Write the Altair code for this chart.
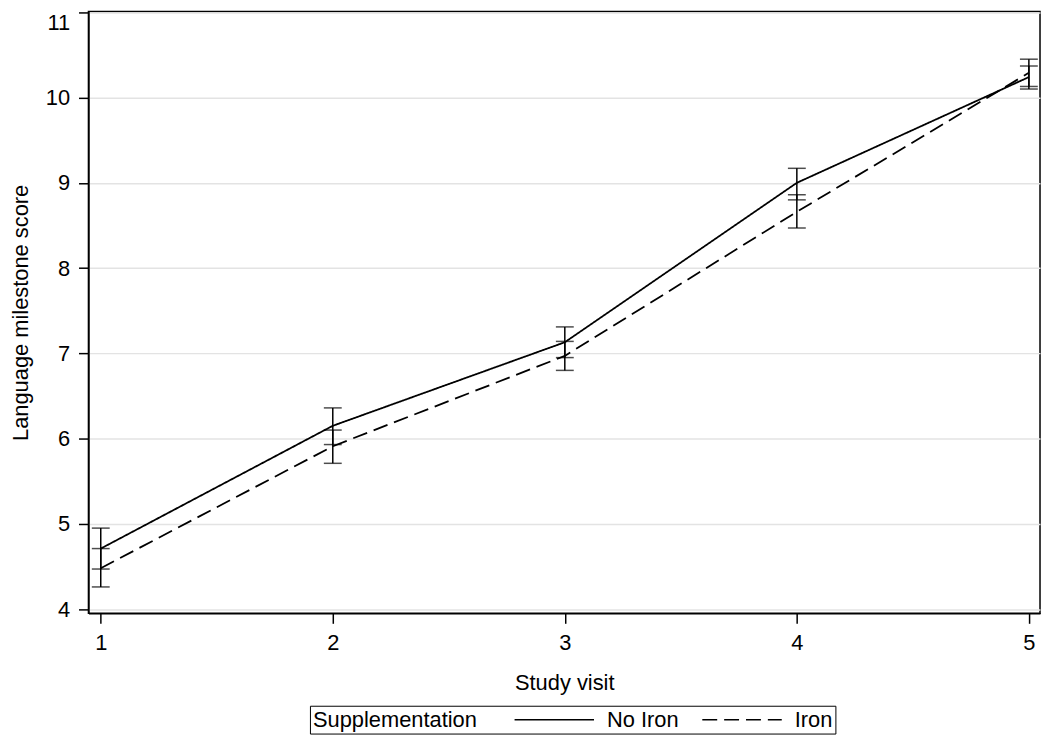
import altair as alt
import pandas as pd

visits = [1, 2, 3, 4, 5]
groups = ["No Iron", "Iron"]

no_iron_mean = [4.71, 6.15, 7.13, 9.00, 10.24]
no_iron_lo = [4.47, 5.93, 6.95, 8.80, 10.10]
no_iron_hi = [4.95, 6.36, 7.31, 9.17, 10.37]

iron_mean = [4.48, 5.91, 6.97, 8.66, 10.29]
iron_lo = [4.26, 5.71, 6.80, 8.47, 10.13]
iron_hi = [4.71, 6.10, 7.14, 8.86, 10.45]

y_ticks = [4, 5, 6, 7, 8, 9, 10, 11]

rows = []
for g, m, lo, hi in [("No Iron", no_iron_mean, no_iron_lo, no_iron_hi),
                     ("Iron", iron_mean, iron_lo, iron_hi)]:
    for v, a, b, c in zip(visits, m, lo, hi):
        rows.append({"visit": v, "group": g, "mean": a, "lo": b, "hi": c})
df = pd.DataFrame(rows)

FONT = "Liberation Sans"
FS = 22

xenc = alt.X("visit:Q",
             scale=alt.Scale(domain=[0.947, 5.048], nice=False, zero=False),
             axis=alt.Axis(values=visits, format="d", title="Study visit",
                           grid=False, titlePadding=20))


def yenc(field):
    return alt.Y(f"{field}:Q",
                 scale=alt.Scale(domain=[3.95, 11.01], nice=False, zero=False),
                 axis=alt.Axis(values=y_ticks, format="d",
                               title="Language milestone score",
                               grid=True, titlePadding=13, labelFlush=2))


base = alt.Chart(df)

lines = base.mark_line(color="black", strokeWidth=1.8).encode(
    x=xenc,
    y=yenc("mean"),
    detail="group:N",
    strokeDash=alt.StrokeDash(
        "group:N",
        scale=alt.Scale(domain=groups, range=[[1, 0], [15, 7]]),
        legend=alt.Legend(
            title="Supplementation",
            orient="none",
            legendX=223,
            legendY=699,
            direction="horizontal",
            titleOrient="left",
            symbolType="M-5,0H5",
            symbolSize=256,
            symbolStrokeColor="black",
            symbolStrokeWidth=1.5,
            labelFont=FONT,
            labelFontSize=FS,
            labelColor="black",
            titleFont=FONT,
            titleFontSize=FS,
            titleFontWeight="normal",
            titleColor="black",
            strokeColor="black",
            fillColor="white",
            padding=3,
            labelOffset=42,
            columnPadding=20,
            titlePadding=66,
        ),
    ),
)

rules = base.mark_rule(color="black", strokeWidth=1.5).encode(
    x=xenc, y=yenc("lo"), y2="hi:Q"
)

caps_lo = base.mark_tick(color="black", orient="horizontal", size=18,
                         thickness=1.5).encode(x=xenc, y=yenc("lo"))
caps_hi = base.mark_tick(color="black", orient="horizontal", size=18,
                         thickness=1.5).encode(x=xenc, y=yenc("hi"))

chart = (
    alt.layer(rules, caps_lo, caps_hi, lines)
    .properties(
        width=958,
        height=606,
        autosize="none",
        padding={"left": 81, "top": 1, "right": 2, "bottom": 122},
    )
    .configure_view(stroke="black", strokeWidth=1.5)
    .configure_axis(
        domainColor="black",
        domainWidth=1.5,
        tickColor="black",
        tickWidth=1.5,
        tickSize=10,
        labelFont=FONT,
        labelFontSize=FS,
        labelColor="black",
        labelPadding=9,
        titleFont=FONT,
        titleFontSize=FS,
        titleFontWeight="normal",
        titleColor="black",
        gridColor="#e3e3e3",
        gridWidth=1.5,
    )
)

chart.save("out.html", embed_options={"renderer": "svg", "actions": False})
